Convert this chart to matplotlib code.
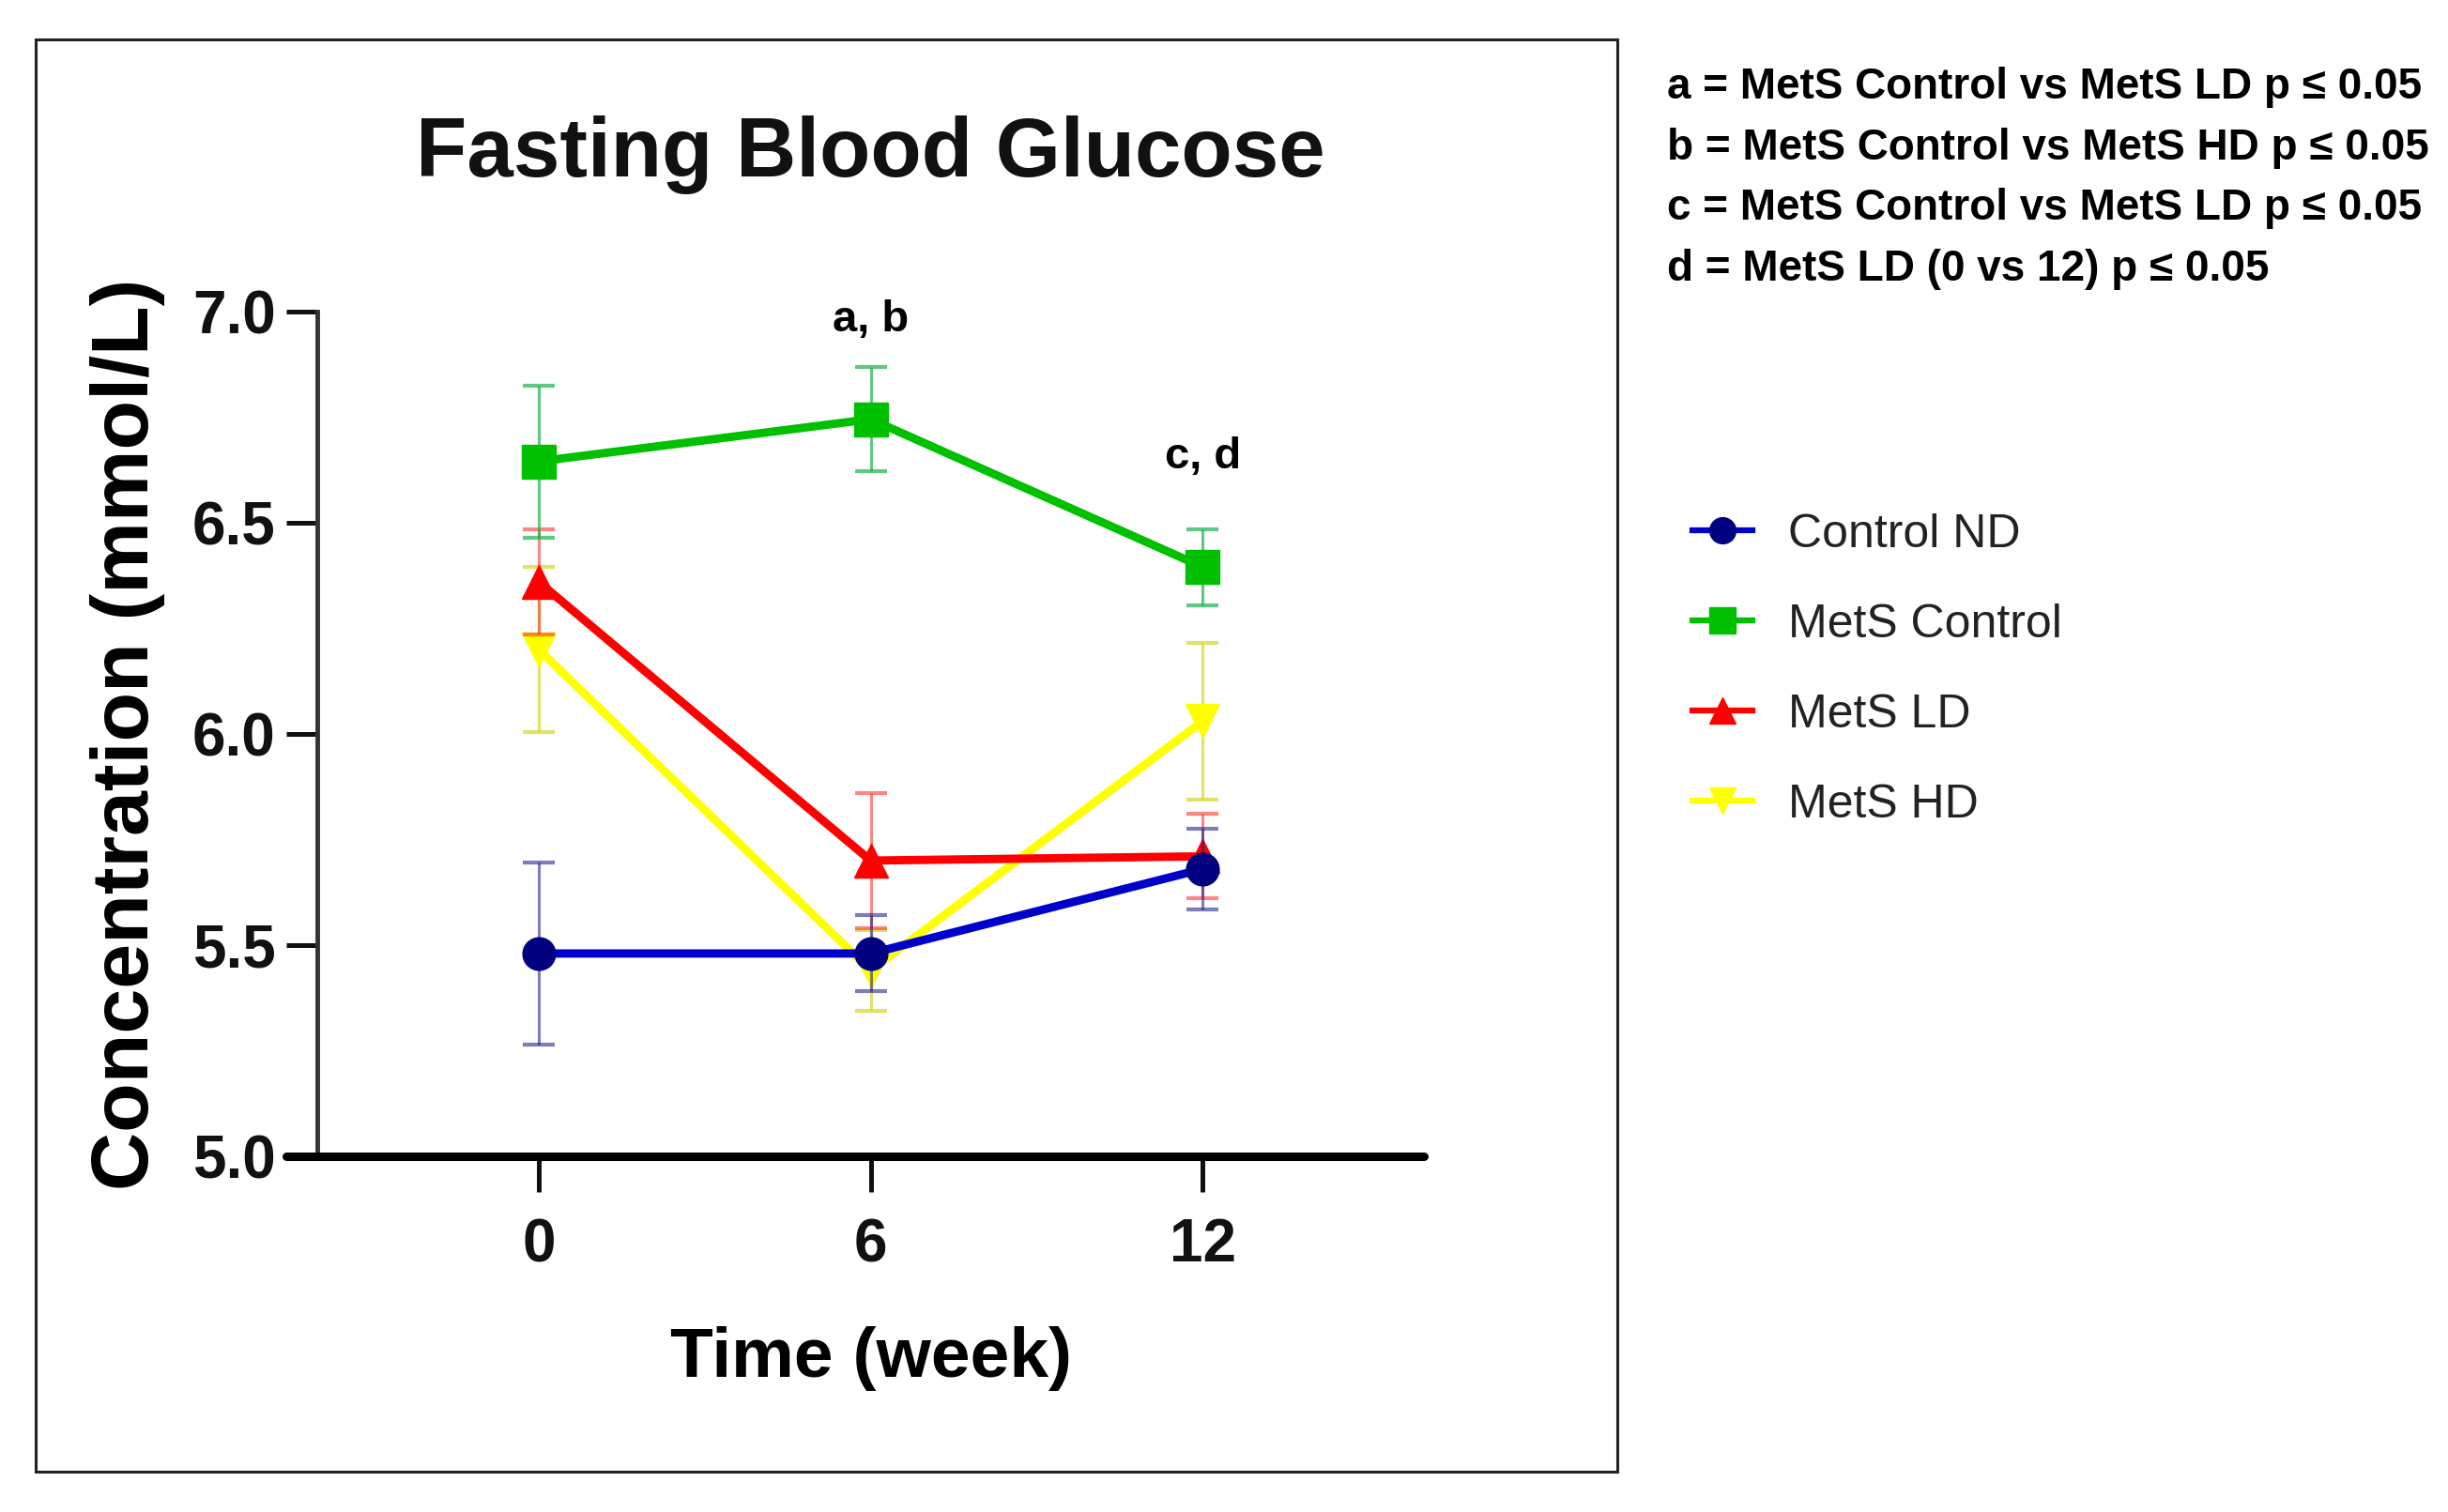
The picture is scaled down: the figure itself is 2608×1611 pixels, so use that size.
import matplotlib
matplotlib.use("Agg")
import matplotlib.pyplot as plt
from matplotlib import font_manager
from matplotlib.patches import Rectangle

# data
weeks = [0, 6, 12]
groups = ["Control ND", "MetS Control", "MetS LD", "MetS HD"]
control_nd = [5.48, 5.48, 5.68]
control_nd_err = [0.215, 0.09, 0.095]
mets_control = [6.645, 6.745, 6.395]
mets_control_err = [0.18, 0.123, 0.09]
mets_ld = [6.36, 5.70, 5.71]
mets_ld_err = [0.125, 0.16, 0.10]
mets_hd = [6.20, 5.44, 6.03]
mets_hd_err = [0.195, 0.095, 0.185]

sig_labels = ["a, b", "c, d"]
sig_x = [6, 12]
sig_y = [6.98, 6.655]
notes = [
    "a = MetS Control vs MetS LD p \u2264 0.05",
    "b = MetS Control vs MetS HD p \u2264 0.05",
    "c = MetS Control vs MetS LD p \u2264 0.05",
    "d = MetS LD (0 vs 12) p \u2264 0.05",
]

names = {f.name for f in font_manager.fontManager.ttflist}
narrow = "Liberation Sans Narrow" if "Liberation Sans Narrow" in names else "Liberation Sans"
wide = "Liberation Sans"

fig = plt.figure(figsize=(26.08, 16.11), dpi=100)
ax = fig.add_axes([0.1296, 0.2353, 0.4521, 0.5587])

styles = [
    # values, errors, line colour, marker colour, error colour, marker, size, z
    (mets_hd, mets_hd_err, "#ffff00", "#ffff00", (0.85, 0.85, 0.2, 0.75), "v", 26, 3),
    (mets_ld, mets_ld_err, "#ff0000", "#ff0000", (1.0, 0.2, 0.2, 0.6), "^", 26, 4),
    (mets_control, mets_control_err, "#00c000", "#00c000", (0.1, 0.7, 0.3, 0.7), "s", 26, 5),
    (control_nd, control_nd_err, "#0000cc", "#000080", (0.15, 0.15, 0.55, 0.6), "o", 25, 6),
]
handles = {}
for (vals, errs, lc, mc, ec, mk, ms, z), name in zip(styles, groups[::-1]):
    h = ax.errorbar(weeks, vals, yerr=errs, color=lc, marker=mk, ms=ms,
                    mfc=mc, mec=mc, lw=6.4, ecolor=ec, elinewidth=2.2,
                    capsize=12, capthick=3, zorder=z, label=name)
    handles[name] = h.lines[0]

for lab, x, y in zip(sig_labels, sig_x, sig_y):
    ax.text(x, y, lab, ha="center", va="center", fontsize=34,
            fontweight="bold", family=wide)

ax.set_xlim(-4, 16)
ax.set_ylim(5, 7)
ax.set_xticks(weeks)
ax.set_yticks([5.0, 5.5, 6.0, 6.5, 7.0])
ax.set_yticklabels(["5.0", "5.5", "6.0", "6.5", "7.0"])
for s in ["top", "right"]:
    ax.spines[s].set_visible(False)
ax.spines["left"].set_linewidth(3.5)
ax.spines["left"].set_color("#333333")
ax.spines["bottom"].set_linewidth(6.5)
ax.spines["bottom"].set_bounds(-4.56, 16)
ax.spines["bottom"].set_capstyle("round")
ax.tick_params(axis="y", length=24, width=3.6, pad=8, labelsize=46, colors="#111111")
ax.tick_params(axis="x", length=27, width=3.6, pad=20, labelsize=46, colors="#111111")
for t in ax.get_xticklabels() + ax.get_yticklabels():
    t.set_family(narrow)
    t.set_fontweight("bold")

ax.set_ylabel("Concentration (mmol/L)", fontsize=62, fontweight="bold",
              family=wide, va="center")
ax.yaxis.set_label_coords(-0.171, 0.5)
ax.set_xlabel("Time (week)", fontsize=54, fontweight="bold", family=narrow,
              va="center")
ax.xaxis.set_label_coords(0.5, -0.24)
ax.text(0.5, 1.185, "Fasting Blood Glucose", transform=ax.transAxes,
        ha="center", va="center", fontsize=64, fontweight="bold", family=wide,
        color="#111111")

leg = fig.legend([handles[g] for g in groups], groups, loc="upper left",
                 bbox_to_anchor=(0.6913, 0.6605), frameon=False, borderpad=0,
                 borderaxespad=0, handlelength=1.28, handletextpad=0.76,
                 labelspacing=1.0, markerscale=0.8,
                 prop={"family": narrow, "size": 36})
for t in leg.get_texts():
    t.set_color("#222222")
for ln in leg.get_lines():
    ln.set_linewidth(4.5)

for i, line in enumerate(notes):
    fig.text(0.681, 0.9425 - i * 0.0403, line, ha="left", va="center",
             fontsize=33, fontweight="bold", family=narrow)

fig.patches.append(Rectangle((38 / 2608, 1 - 1568 / 1611), (1723 - 38) / 2608,
                             (1568 - 42) / 1611, transform=fig.transFigure,
                             fill=False, lw=2.2, ec="#222222"))

fig.savefig("out.png", dpi=100)
